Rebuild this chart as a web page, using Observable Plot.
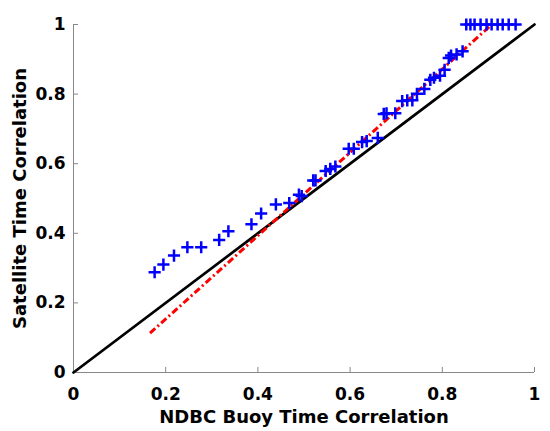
<!DOCTYPE html>
<html><head><meta charset="utf-8">
<script src="https://cdn.jsdelivr.net/npm/d3@7"></script>
<script src="https://cdn.jsdelivr.net/npm/@observablehq/plot@0.6"></script>
<style>body{margin:0;background:#fff}</style>
</head><body><div id="chart"></div>
<script>
const buoyCorr = [0.176,0.195,0.218,0.247,0.277,0.316,0.336,0.386,0.407,0.439,0.468,0.489,0.495,0.520,0.525,0.547,0.557,0.568,0.597,0.608,0.626,0.636,0.660,0.673,0.679,0.698,0.713,0.724,0.735,0.745,0.761,0.774,0.782,0.795,0.805,0.814,0.819,0.831,0.844,0.852,0.861,0.870,0.883,0.896,0.907,0.920,0.931,0.944,0.959];
const satCorr  = [0.288,0.310,0.336,0.360,0.360,0.381,0.406,0.426,0.457,0.483,0.487,0.511,0.507,0.552,0.552,0.579,0.585,0.592,0.643,0.643,0.662,0.665,0.674,0.743,0.745,0.745,0.780,0.782,0.782,0.801,0.815,0.841,0.847,0.853,0.870,0.904,0.911,0.914,0.923,1,1,1,1,1,1,1,1,1,1];
const identityX = [0, 1];
const identityY = [0, 1];
const fitX = [0.166, 0.903];
const fitY = [0.113, 0.995];
const ticks = [0, 0.2, 0.4, 0.6, 0.8, 1];

const pts = buoyCorr.map((x, i) => ({x, y: satCorr[i]}));
const idLine = identityX.map((x, i) => ({x, y: identityY[i]}));
const fitLine = fitX.map((x, i) => ({x, y: fitY[i]}));

const chart = Plot.plot({
  width: 550, height: 431,
  marginLeft: 73, marginRight: 16, marginTop: 24, marginBottom: 59,
  style: {fontFamily: "DejaVu Sans", fontWeight: "bold", fontSize: "17px", color: "#000", background: "#fff"},
  x: {domain: [0, 1]},
  y: {domain: [0, 1]},
  marks: [
    Plot.ruleY([0], {stroke: "#888", strokeWidth: 1}),
    Plot.ruleX([0], {stroke: "#888", strokeWidth: 1}),
    Plot.axisX({ticks, tickSize: -5, tickPadding: 20, stroke: "#888", tickFormat: d => String(d), fontSize: 17, label: null}),
    Plot.axisX({ticks: [], label: "NDBC Buoy Time Correlation", labelAnchor: "center", labelOffset: 50, labelArrow: "none", fontSize: 18}),
    Plot.axisY({ticks, tickSize: -5, tickPadding: 13, stroke: "#888", tickFormat: d => String(d), fontSize: 17, label: null}),
    Plot.axisY({ticks: [], label: "Satellite Time Correlation", labelAnchor: "center", labelOffset: 60, labelArrow: "none", fontSize: 18}),
    Plot.line(idLine, {x: "x", y: "y", stroke: "#000", strokeWidth: 2.7}),
    Plot.line(fitLine, {x: "x", y: "y", stroke: "#ff0000", strokeWidth: 3, strokeDasharray: "7,3,2,3", strokeLinecap: "butt"}),
    Plot.dot(pts, {x: "x", y: "y", symbol: "plus", r: 4, stroke: "#0000ff", strokeWidth: 2.5})
  ]
});
document.getElementById("chart").append(chart);
</script>
</body></html>
